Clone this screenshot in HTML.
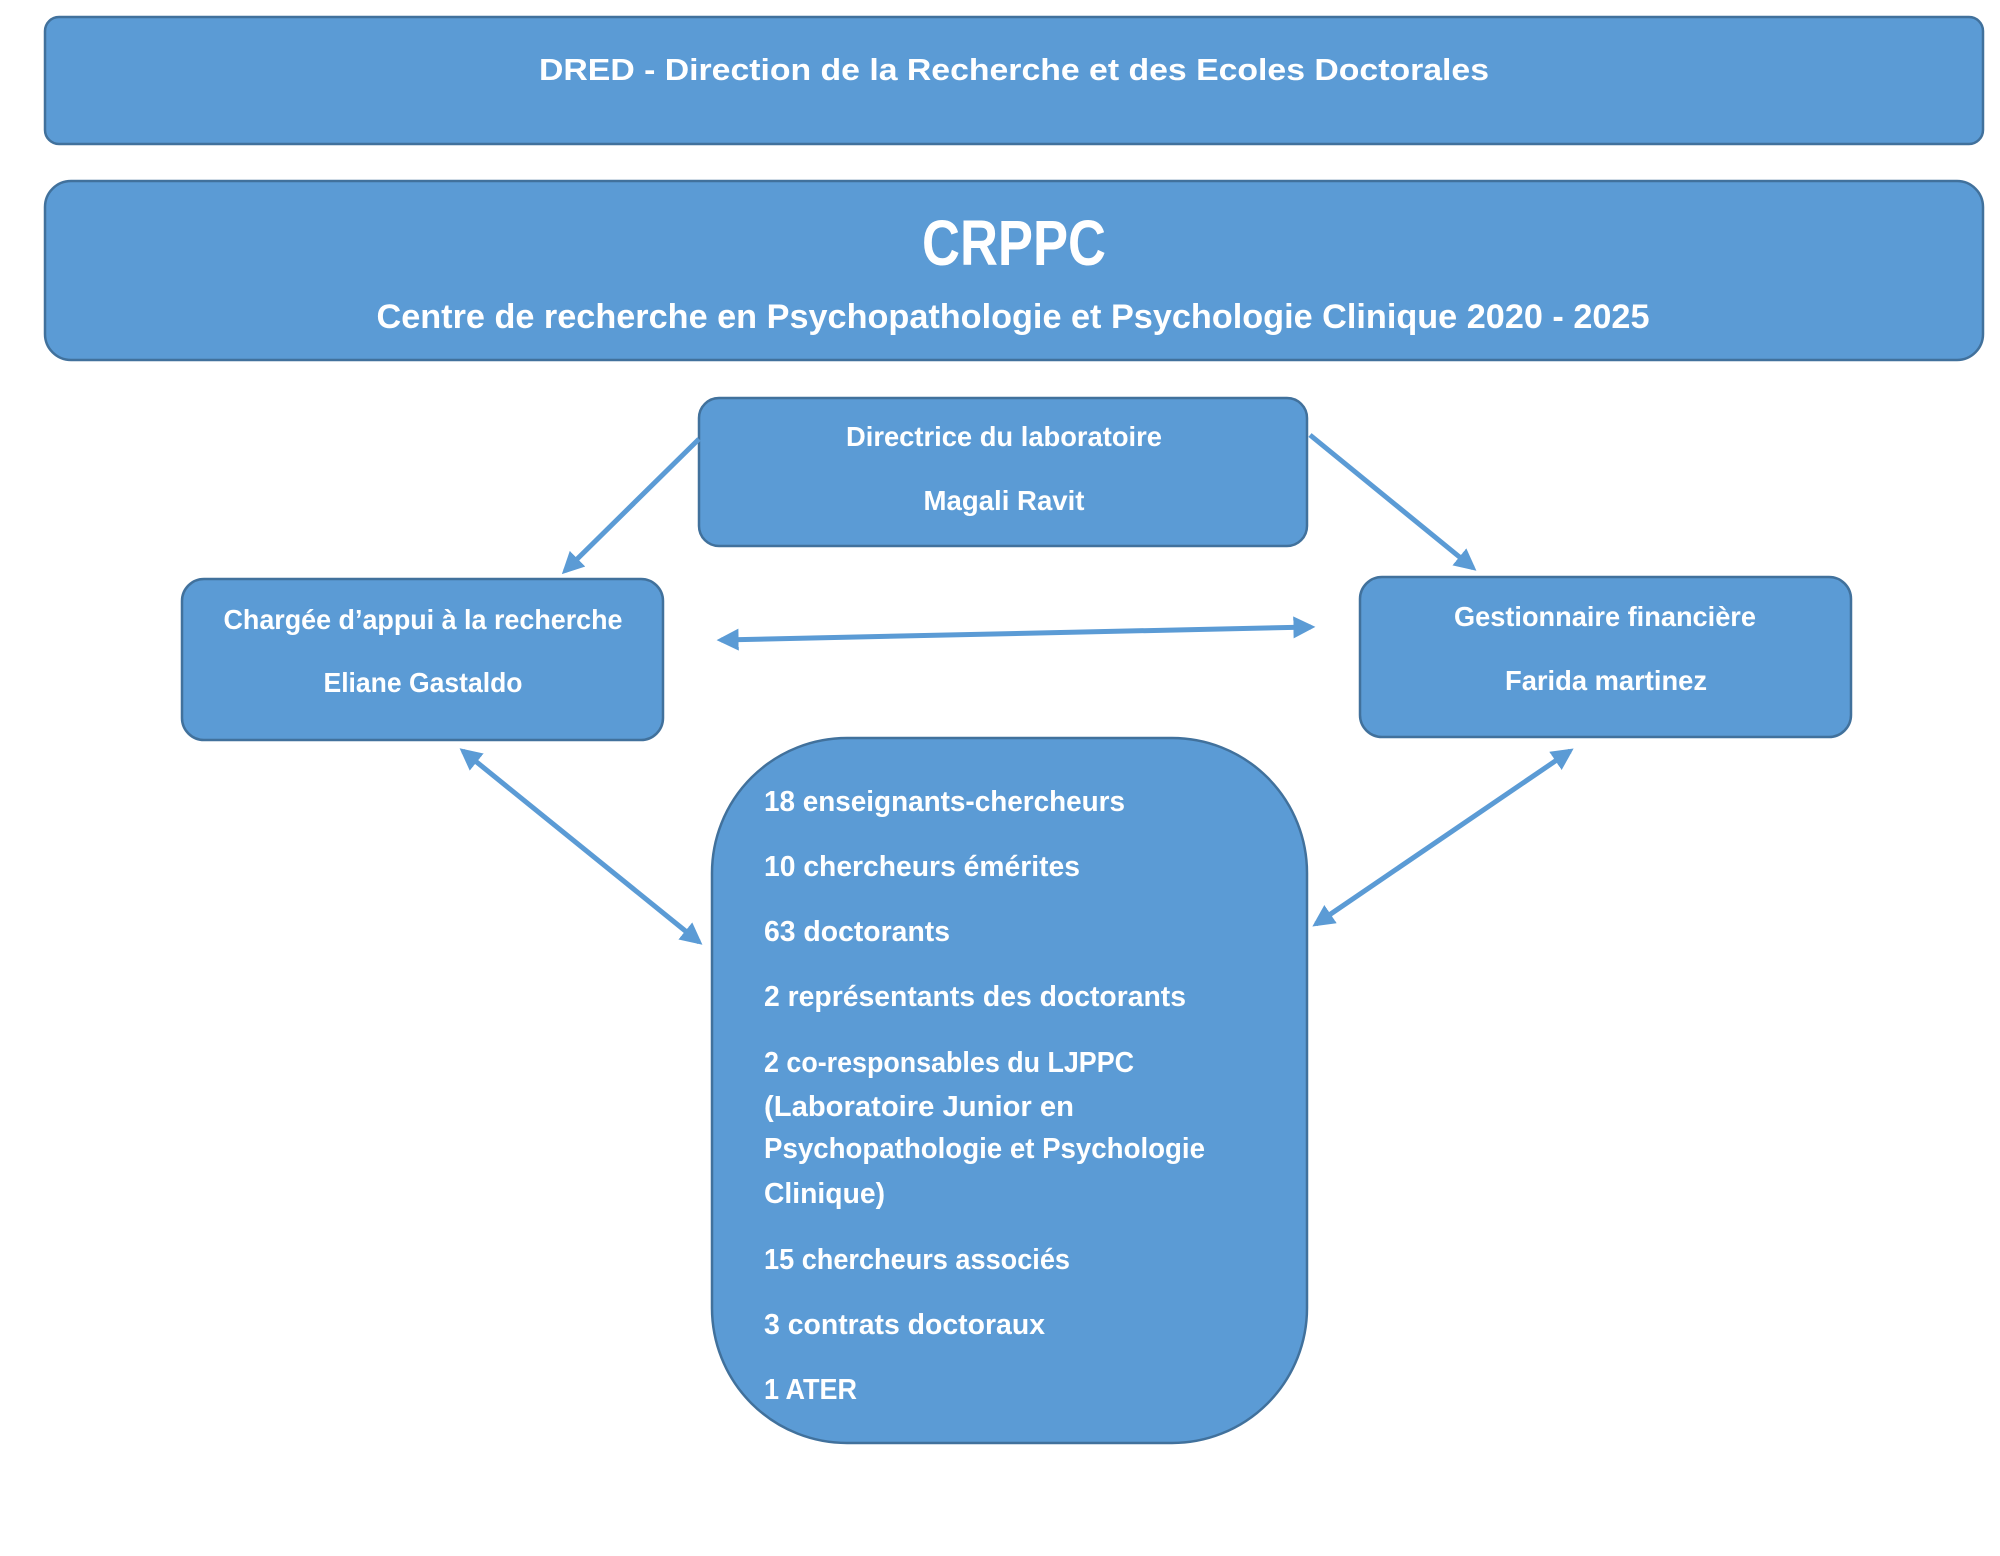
<!DOCTYPE html>
<html><head><meta charset="utf-8"><style>
html,body{margin:0;padding:0;background:#fff;}
svg{display:block;}
text{font-family:"Liberation Sans",sans-serif;font-weight:bold;fill:#fff;}
</style></head><body>
<svg width="2000" height="1556" viewBox="0 0 2000 1556" xmlns="http://www.w3.org/2000/svg">
<defs>
<marker id="ah" viewBox="0 0 10 10" refX="8" refY="5" markerWidth="4.4" markerHeight="4.4" orient="auto-start-reverse" markerUnits="strokeWidth">
<path d="M0,0 L10,5 L0,10 z" fill="#5B9BD5"/>
</marker>
</defs>
<g fill="#5B9BD5" stroke="#41719C" stroke-width="2.5">
<rect x="45" y="17" width="1938" height="127" rx="14"/>
<rect x="45" y="181" width="1938" height="179" rx="26"/>
<rect x="699" y="398" width="608" height="148" rx="20"/>
<rect x="182" y="579" width="481" height="161" rx="22"/>
<rect x="1360" y="577" width="491" height="160" rx="22"/>
<rect x="712" y="738" width="595" height="705" rx="135"/>
</g>
<g stroke="#5B9BD5" stroke-width="5" fill="none">
<line x1="699" y1="439" x2="565" y2="571" marker-end="url(#ah)"/>
<line x1="1310" y1="435" x2="1473" y2="568" marker-end="url(#ah)"/>
<line x1="721" y1="640" x2="1311" y2="627" marker-start="url(#ah)" marker-end="url(#ah)"/>
<line x1="463" y1="751" x2="699" y2="942" marker-start="url(#ah)" marker-end="url(#ah)"/>
<line x1="1570" y1="751" x2="1316" y2="924" marker-start="url(#ah)" marker-end="url(#ah)"/>
</g>
<text x="1014" y="80" font-size="31" text-anchor="middle" textLength="950" lengthAdjust="spacingAndGlyphs">DRED - Direction de la Recherche et des Ecoles Doctorales</text>
<text x="1014" y="265" font-size="64" text-anchor="middle" textLength="184" lengthAdjust="spacingAndGlyphs">CRPPC</text>
<text x="1013" y="328" font-size="34" text-anchor="middle" textLength="1273" lengthAdjust="spacingAndGlyphs">Centre de recherche en Psychopathologie et Psychologie Clinique 2020 - 2025</text>
<text x="1004" y="446" font-size="28" text-anchor="middle" textLength="316" lengthAdjust="spacingAndGlyphs">Directrice du laboratoire</text>
<text x="1004" y="510" font-size="28" text-anchor="middle" textLength="161" lengthAdjust="spacingAndGlyphs">Magali Ravit</text>
<text x="423" y="629" font-size="28" text-anchor="middle" textLength="399" lengthAdjust="spacingAndGlyphs">Chargée d’appui à la recherche</text>
<text x="423" y="692" font-size="28" text-anchor="middle" textLength="199" lengthAdjust="spacingAndGlyphs">Eliane Gastaldo</text>
<text x="1605" y="626" font-size="28" text-anchor="middle" textLength="302" lengthAdjust="spacingAndGlyphs">Gestionnaire financière</text>
<text x="1606" y="690" font-size="28" text-anchor="middle" textLength="202" lengthAdjust="spacingAndGlyphs">Farida martinez</text>
<g font-size="29">
<text x="764" y="811" textLength="361" lengthAdjust="spacingAndGlyphs">18 enseignants-chercheurs</text>
<text x="764" y="876" textLength="316" lengthAdjust="spacingAndGlyphs">10 chercheurs émérites</text>
<text x="764" y="941" textLength="186" lengthAdjust="spacingAndGlyphs">63 doctorants</text>
<text x="764" y="1006" textLength="422" lengthAdjust="spacingAndGlyphs">2 représentants des doctorants</text>
<text x="764" y="1072" textLength="370" lengthAdjust="spacingAndGlyphs">2 co-responsables du LJPPC</text>
<text x="764" y="1116" textLength="310" lengthAdjust="spacingAndGlyphs">(Laboratoire Junior en</text>
<text x="764" y="1158" textLength="441" lengthAdjust="spacingAndGlyphs">Psychopathologie et Psychologie</text>
<text x="764" y="1203" textLength="121" lengthAdjust="spacingAndGlyphs">Clinique)</text>
<text x="764" y="1269" textLength="306" lengthAdjust="spacingAndGlyphs">15 chercheurs associés</text>
<text x="764" y="1334" textLength="281" lengthAdjust="spacingAndGlyphs">3 contrats doctoraux</text>
<text x="764" y="1399" textLength="93" lengthAdjust="spacingAndGlyphs">1 ATER</text>
</g>
</svg>
</body></html>
